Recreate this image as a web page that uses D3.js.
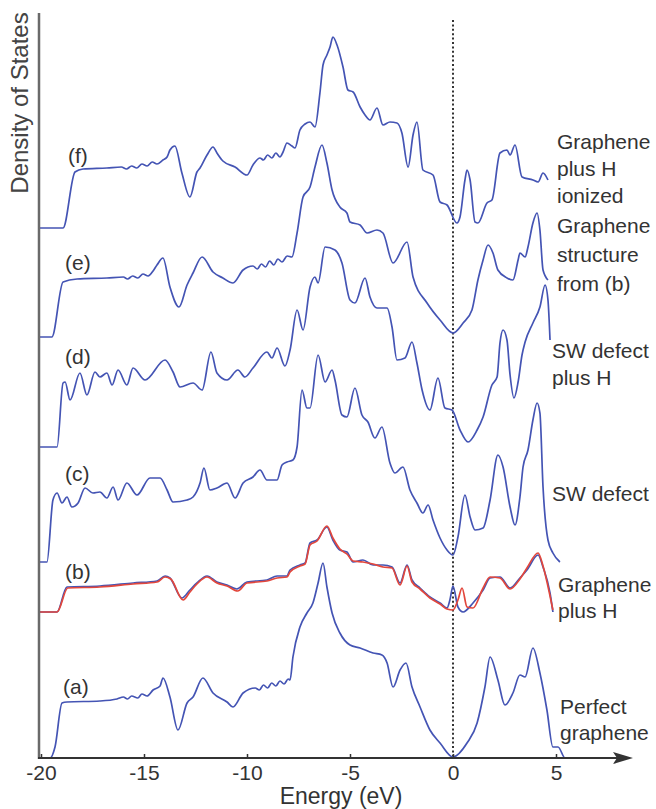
<!DOCTYPE html>
<html>
<head>
<meta charset="utf-8">
<script src="https://cdn.jsdelivr.net/npm/d3@7"></script>
<style>
  body { margin: 0; background: #fff; }
  svg { display: block; font-family: "Liberation Sans", Arial, sans-serif; }
</style>
</head>
<body>
<div id="output"></div>
<script>
// energy (eV) vs density of states (arbitrary units, measured above each curve's own baseline)
const curveA = [[-20.1,0],[-19.56,0],[-19.32,1.1],[-18.98,5.5],[-18.74,5.6],[-17.14,5.7],[-16.31,5.9],[-16.0,6.1],[-15.8,5.9],[-15.6,6.2],[-15.3,6.0],[-15.1,6.4],[-14.85,6.2],[-14.56,6.8],[-14.22,7.2],[-14.08,8.0],[-13.74,6.1],[-13.35,2.8],[-12.91,5.5],[-12.62,6.1],[-12.14,8.0],[-11.65,6.5],[-10.97,5.6],[-10.68,5.1],[-10.19,6.5],[-9.6,7.0],[-9.4,6.8],[-9.2,7.3],[-9.0,7.0],[-8.8,7.5],[-8.6,7.2],[-8.4,7.7],[-8.2,7.4],[-8.0,7.9],[-7.91,7.8],[-7.77,10.1],[-7.43,13.1],[-7.09,14.5],[-6.8,15.5],[-6.55,17.5],[-6.31,19.5],[-6.12,17.1],[-5.87,14.5],[-5.49,12.5],[-5.0,11.3],[-4.51,11.0],[-3.88,10.5],[-3.45,10.3],[-3.2,9.5],[-2.91,7.1],[-2.57,8.8],[-2.28,9.5],[-1.99,7.1],[-1.6,5.1],[-1.12,2.8],[-0.63,1.5],[0,0.1],[0.68,1.5],[1.17,3.5],[1.55,7.1],[1.8,10.1],[2.18,7.8],[2.52,5.3],[2.91,6.5],[3.25,8.3],[3.5,8.1],[3.88,11.0],[4.22,8.5],[4.56,4.8],[4.85,1.1],[5.1,1.1],[5.44,0],[5.83,0]];

const curveBBlue = [[-20.1,0],[-19.22,0],[-18.74,2.5],[-17.14,2.6],[-15.53,2.9],[-14.37,3.1],[-13.98,3.6],[-13.74,3.4],[-13.16,1.4],[-12.77,2.2],[-12.43,2.9],[-11.94,3.6],[-11.46,3.0],[-10.97,2.7],[-10.49,2.3],[-10.0,3.0],[-9.03,3.2],[-8.54,3.6],[-8.06,3.6],[-7.91,4.2],[-7.43,4.7],[-7.18,4.9],[-6.94,6.9],[-6.6,7.2],[-6.12,8.5],[-5.83,7.2],[-5.49,6.2],[-5.15,6.0],[-4.85,5.0],[-4.37,5.2],[-3.88,4.7],[-3.4,4.7],[-2.96,4.5],[-2.57,2.9],[-2.23,4.7],[-1.99,3.2],[-1.6,2.4],[-1.12,1.5],[-0.63,0.9],[-0.29,0.4],[-0.15,1.2],[0,2.6],[0.24,0.5],[0.49,0],[0.97,0.9],[1.46,2.2],[1.8,3.4],[2.28,3.5],[2.77,2.4],[3.25,3.4],[3.59,4.2],[4.13,5.7],[4.37,4.5],[4.71,1.9],[4.85,0]];

const curveBRed = [[-20.1,0],[-19.22,0],[-18.7,2.4],[-17.14,2.5],[-15.53,2.8],[-14.37,3.0],[-13.98,3.5],[-13.7,3.3],[-13.1,1.2],[-12.77,2.0],[-12.43,2.8],[-11.94,3.5],[-11.46,2.9],[-10.97,2.6],[-10.45,2.1],[-10.0,2.9],[-9.03,3.1],[-8.54,3.4],[-8.06,3.5],[-7.91,4.0],[-7.43,4.6],[-7.18,4.8],[-6.94,6.7],[-6.6,7.1],[-6.12,8.6],[-5.83,7.4],[-5.49,6.3],[-5.15,5.8],[-4.85,5.1],[-4.37,5.0],[-3.88,4.8],[-3.4,4.5],[-2.96,4.4],[-2.57,2.7],[-2.23,4.6],[-1.99,3.0],[-1.6,2.3],[-1.12,1.4],[-0.63,0.8],[-0.29,0.3],[0,0.2],[0.24,1.2],[0.44,2.4],[0.68,0.5],[0.97,0.4],[1.46,2.4],[1.8,3.5],[2.28,3.4],[2.77,2.3],[3.25,3.3],[3.59,4.4],[4.13,5.9],[4.37,4.6],[4.71,1.6],[4.85,0.2]];

const curveC = [[-20.1,0],[-19.71,0],[-19.42,6.2],[-19.22,6.9],[-18.98,5.9],[-18.74,6.5],[-18.5,5.5],[-18.2,5.9],[-17.86,7.4],[-17.48,6.9],[-17.14,7.0],[-16.8,6.4],[-16.5,7.5],[-16.26,6.2],[-15.83,7.9],[-15.34,6.7],[-14.71,8.4],[-14.22,8.4],[-13.88,7.2],[-13.59,6.0],[-12.91,6.2],[-12.62,6.5],[-12.28,7.9],[-12.09,9.4],[-11.8,7.2],[-11.46,7.4],[-10.97,7.9],[-10.58,6.4],[-10.19,7.9],[-9.71,8.5],[-9.37,9.2],[-9.03,8.2],[-8.54,8.2],[-8.3,9.7],[-8.06,10.0],[-7.77,10.2],[-7.57,11.5],[-7.33,17.2],[-7.09,15.4],[-6.94,15.4],[-6.55,20.7],[-6.21,18.0],[-5.87,19.2],[-5.73,18.2],[-5.39,14.7],[-5.15,14.5],[-4.76,17.4],[-4.42,14.7],[-4.13,14.0],[-3.79,12.4],[-3.45,13.5],[-3.06,9.9],[-2.82,8.9],[-2.43,9.5],[-2.09,7.2],[-1.75,5.9],[-1.46,4.9],[-1.21,5.7],[-0.97,4.2],[-0.63,2.4],[-0.29,1.2],[0,0.7],[0.24,2.5],[0.58,6.7],[0.83,4.5],[1.07,3.2],[1.46,3.4],[1.8,6.2],[2.18,10.7],[2.43,9.5],[2.77,5.5],[3.01,3.7],[3.25,6.5],[3.4,9.5],[3.64,11.2],[3.88,14.2],[4.08,15.9],[4.22,14.9],[4.37,7.5],[4.61,2.2],[4.85,0.9],[5.19,0]];

const curveD = [[-20.1,0],[-19.22,0],[-18.93,6.4],[-18.83,6.5],[-18.59,4.7],[-18.11,7.4],[-17.77,5.2],[-17.38,7.5],[-17.14,7.0],[-16.8,7.4],[-16.55,6.2],[-16.26,7.7],[-15.83,6.2],[-15.53,7.9],[-14.95,6.7],[-13.98,8.7],[-13.59,7.5],[-13.25,6.0],[-12.62,6.4],[-12.18,5.7],[-11.75,9.5],[-11.46,7.4],[-10.97,6.7],[-10.44,7.7],[-10.1,7.0],[-9.71,7.9],[-9.03,9.5],[-8.79,8.9],[-8.54,9.9],[-8.16,8.1],[-7.91,9.7],[-7.57,13.7],[-7.28,11.7],[-6.94,16.0],[-6.7,17.0],[-6.55,16.4],[-6.21,20.0],[-5.73,19.7],[-5.39,18.4],[-5.0,14.7],[-4.76,14.4],[-4.27,16.9],[-4.03,15.0],[-3.69,13.9],[-3.2,13.9],[-2.96,12.0],[-2.72,8.7],[-2.33,8.9],[-1.99,10.5],[-1.75,8.4],[-1.5,5.7],[-1.12,3.7],[-0.73,6.9],[-0.39,3.9],[-0.05,3.7],[0.34,1.7],[0.73,0.5],[1.17,1.7],[1.46,3.0],[1.89,6.2],[2.14,7.0],[2.28,10.4],[2.43,11.7],[2.62,10.7],[2.77,7.2],[2.96,4.9],[3.16,6.5],[3.35,9.2],[3.5,10.5],[3.88,12.4],[4.22,14.0],[4.47,16.2],[4.61,14.7],[4.71,10.7]];

const curveE = [[-20.1,0],[-19.47,0],[-18.93,5.5],[-18.25,5.8],[-16.8,5.9],[-16.0,6.0],[-15.8,5.8],[-15.55,6.1],[-15.3,5.9],[-15.05,6.3],[-14.8,6.1],[-14.56,6.6],[-14.37,7.2],[-14.08,7.9],[-13.74,5.0],[-13.3,3.0],[-12.91,5.2],[-12.62,6.4],[-12.18,8.0],[-11.65,6.5],[-11.17,5.9],[-10.68,5.4],[-10.19,6.7],[-9.71,7.1],[-9.5,6.8],[-9.3,7.3],[-9.1,7.0],[-8.9,7.6],[-8.7,7.2],[-8.5,7.8],[-8.3,7.5],[-8.05,8.1],[-7.82,8.0],[-7.57,10.4],[-7.28,14.0],[-6.94,15.0],[-6.7,17.0],[-6.36,19.2],[-6.12,17.4],[-5.87,14.7],[-5.49,13.0],[-5.15,12.4],[-5.0,11.5],[-4.51,11.2],[-4.17,10.4],[-3.69,10.7],[-3.4,10.4],[-2.91,7.4],[-2.23,9.5],[-1.94,6.0],[-1.26,3.4],[-0.63,1.7],[0,0.4],[0.49,1.4],[0.92,2.7],[1.21,5.7],[1.46,7.7],[1.7,9.2],[1.94,8.4],[2.18,6.7],[2.62,5.9],[2.91,5.7],[3.16,7.7],[3.25,8.4],[3.5,8.0],[3.64,9.0],[3.88,11.4],[4.08,12.4],[4.22,10.7],[4.37,6.7],[4.61,5.7]];

const curveF = [[-20.1,0],[-18.93,0],[-18.35,5.6],[-17.96,5.9],[-16.8,6.0],[-16.1,6.1],[-15.85,5.9],[-15.6,6.2],[-15.35,6.0],[-15.1,6.4],[-14.85,6.2],[-14.6,6.6],[-14.37,6.4],[-14.08,6.8],[-13.88,7.1],[-13.74,7.8],[-13.5,8.2],[-13.16,5.5],[-12.77,3.1],[-12.43,5.6],[-12.28,6.0],[-11.94,7.3],[-11.65,8.1],[-11.46,7.5],[-11.17,6.7],[-10.58,6.1],[-10.0,5.3],[-9.71,6.3],[-9.37,7.0],[-9.2,6.8],[-9.0,7.3],[-8.79,7.0],[-8.6,7.5],[-8.4,7.1],[-8.25,7.6],[-8.06,8.5],[-7.82,8.2],[-7.67,8.0],[-7.43,9.8],[-7.18,10.4],[-6.94,10.6],[-6.7,10.1],[-6.46,13.5],[-6.31,16.3],[-6.12,17.3],[-5.97,18.1],[-5.83,19.1],[-5.63,18.3],[-5.34,16.1],[-5.1,13.8],[-4.85,13.6],[-4.51,12.1],[-4.27,11.3],[-4.03,10.8],[-3.69,12.0],[-3.4,10.3],[-3.06,10.6],[-2.72,10.5],[-2.48,9.5],[-2.18,6.1],[-1.94,9.3],[-1.75,10.6],[-1.46,5.8],[-0.97,5.3],[-0.63,2.6],[-0.29,2.3],[0.19,0.5],[0.34,1.1],[0.58,4.8],[0.68,5.8],[0.83,4.8],[1.07,0.6],[1.21,0.5],[1.65,2.5],[1.89,2.8],[2.28,7.5],[2.62,7.8],[2.77,7.3],[3.01,8.3],[3.35,5.1],[3.88,4.8],[4.13,4.6],[4.37,5.5],[4.61,4.8]];

// vertical offset of each curve (same units)
const offsets = { a: 0, b: 14.6, c: 19.6, d: 31.1, e: 42.1, f: 53.0 };

const panelLetters = ["(a)", "(b)", "(c)", "(d)", "(e)", "(f)"];
const panelNames = [
  ["Perfect", "graphene"],
  ["Graphene", "plus H"],
  ["SW defect"],
  ["SW defect", "plus H"],
  ["Graphene", "structure", "from (b)"],
  ["Graphene", "plus H", "ionized"]
];
const xTicks = [-20, -15, -10, -5, 0, 5];

const width = 656, height = 809;
const blue = "#4454b4", red = "#e2473c";

const x = d3.scaleLinear().domain([-20, 5]).range([41, 556]);
const y = d3.scaleLinear().domain([0, 75]).range([758, 8]);

const svg = d3.select("#output").append("svg")
  .attr("width", width)
  .attr("height", height);

// fermi level
svg.append("line")
  .attr("x1", x(0)).attr("x2", x(0))
  .attr("y1", 20).attr("y2", y(0))
  .attr("stroke", "#333")
  .attr("stroke-width", 2)
  .attr("stroke-dasharray", "2,2.4");

// curves
const line = d3.line()
  .x(d => x(d[0]))
  .y(d => d[2])
  .curve(d3.curveMonotoneX);

function drawCurve(data, off, color) {
  svg.append("path")
    .datum(data.map(d => [d[0], d[1], y(d[1] + off)]))
    .attr("fill", "none")
    .attr("stroke", color)
    .attr("stroke-width", 1.7)
    .attr("stroke-linejoin", "round")
    .attr("d", line);
}

drawCurve(curveA, offsets.a, blue);
drawCurve(curveBBlue, offsets.b, blue);
drawCurve(curveBRed, offsets.b, red);
drawCurve(curveC, offsets.c, blue);
drawCurve(curveD, offsets.d, blue);
drawCurve(curveE, offsets.e, blue);
drawCurve(curveF, offsets.f, blue);

// y axis (plain line, no ticks)
svg.append("line")
  .attr("x1", 39).attr("x2", 39)
  .attr("y1", 13).attr("y2", y(0) + 1)
  .attr("stroke", "#6a6a6a")
  .attr("stroke-width", 2.5);

svg.append("text")
  .attr("transform", `translate(28,${103}) rotate(-90)`)
  .attr("text-anchor", "middle")
  .attr("font-size", 24)
  .attr("fill", "#444")
  .text("Density of States");

// x axis with arrow
const xAxis = d3.axisBottom(x)
  .tickValues(xTicks)
  .tickSize(-4)
  .tickPadding(7)
  .tickFormat(d => String(d));

const gx = svg.append("g")
  .attr("transform", `translate(0,${y(0)})`)
  .call(xAxis);
gx.select(".domain").remove();
gx.selectAll(".tick line").attr("stroke", "#333").attr("stroke-width", 1.5);
gx.selectAll(".tick text")
  .attr("font-size", 21)
  .attr("fill", "#333")
  .attr("font-family", "Liberation Sans, Arial, sans-serif");

svg.append("line")
  .attr("x1", 38).attr("x2", 620)
  .attr("y1", y(0)).attr("y2", y(0))
  .attr("stroke", "#333")
  .attr("stroke-width", 2);
svg.append("path")
  .attr("d", `M633,${y(0)} L613,${y(0) - 6} L617,${y(0)} L613,${y(0) + 6} Z`)
  .attr("fill", "#333");

svg.append("text")
  .attr("x", 341).attr("y", 804)
  .attr("text-anchor", "middle")
  .attr("font-size", 23)
  .attr("fill", "#333")
  .text("Energy (eV)");

// panel letters (left) and descriptions (right)
const letterPos = [[63, 686], [65, 571], [65, 473], [65, 356], [65, 262], [68, 155]];
const namePos = [[560, 706], [558, 584], [552, 493], [552, 350], [557, 225], [557, 141]];
const lineGap = [26, 26, 26, 27, 29, 27];

panelLetters.forEach((t, i) => {
  svg.append("text")
    .attr("x", letterPos[i][0]).attr("y", letterPos[i][1])
    .attr("dy", "0.36em")
    .attr("font-size", 21)
    .attr("fill", "#333")
    .text(t);
});

panelNames.forEach((lines, i) => {
  const g = svg.append("text")
    .attr("font-size", 21)
    .attr("fill", "#333");
  lines.forEach((s, j) => {
    g.append("tspan")
      .attr("x", namePos[i][0])
      .attr("y", namePos[i][1] + j * lineGap[i])
      .attr("dy", "0.36em")
      .text(s);
  });
});
</script>
</body>
</html>
